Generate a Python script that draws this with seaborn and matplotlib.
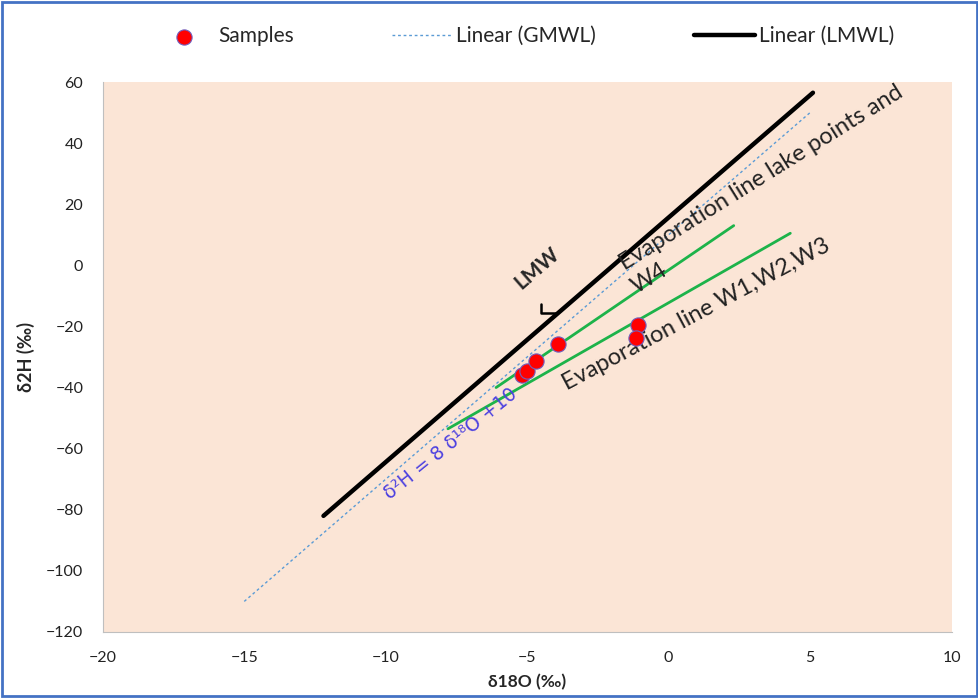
import matplotlib
matplotlib.use("Agg")
import matplotlib.pyplot as plt
import seaborn as sns
import pandas as pd
from matplotlib.patches import Rectangle

# sample points (d18O, d2H)
sample_o18 = [-5.2, -5.0, -4.7, -3.9, -1.1, -1.15]
sample_h2 = [-36.0, -34.7, -31.3, -25.8, -19.5, -23.8]

# meteoric water lines (end points)
gmwl_x = [-15.0, 5.0]
gmwl_y = [-110.0, 50.0]
lmwl_x = [-12.2, 5.1]
lmwl_y = [-82.0, 56.5]

# evaporation lines
evap_lake_x = [-6.1, 2.3]
evap_lake_y = [-40.0, 13.0]
evap_w_x = [-7.8, 4.3]
evap_w_y = [-53.5, 10.5]

xticks = [-20, -15, -10, -5, 0, 5, 10]
yticks = [-120, -100, -80, -60, -40, -20, 0, 20, 40, 60]

sns.set_style("white")
plt.rcParams['font.family'] = ['Lato', 'DejaVu Sans']

fig = plt.figure(figsize=(9.79, 6.98), dpi=100)
ax = fig.add_axes([0.105, 0.0946, 0.867, 0.7879])
ax.set_facecolor('#fbe5d6')

sns.lineplot(x=gmwl_x, y=gmwl_y, ax=ax, color='#5b9bd5', lw=1.0,
             linestyle=(0, (2, 2)), label='Linear (GMWL)')
sns.lineplot(x=lmwl_x, y=lmwl_y, ax=ax, color='black', lw=3.2,
             solid_capstyle='round', label='Linear (LMWL)')
sns.lineplot(x=evap_lake_x, y=evap_lake_y, ax=ax, color='#1db34a', lw=2.0)
sns.lineplot(x=evap_w_x, y=evap_w_y, ax=ax, color='#1db34a', lw=2.0)
sns.scatterplot(x=sample_o18, y=sample_h2, ax=ax, color='#ff0000', s=120,
                edgecolor='#7060c0', linewidth=0.8, zorder=5, label='Samples')

ax.set_xlim(-20, 10)
ax.set_ylim(-120, 60)
ax.set_xticks(xticks)
ax.set_yticks(yticks)
ax.tick_params(axis='both', length=0, labelsize=11.5, colors='#222222')
ax.tick_params(axis='x', pad=14)
ax.tick_params(axis='y', pad=14)
for s in ['top', 'right']:
    ax.spines[s].set_visible(False)
for s in ['left', 'bottom']:
    ax.spines[s].set_color('#bfbfbf')
    ax.spines[s].set_linewidth(0.8)

ax.set_xlabel('δ18O (‰)', fontsize=12.5, fontweight='bold', labelpad=6)
ax.set_ylabel('δ2H (‰)', fontsize=13, fontweight='bold', labelpad=8)

# annotations
ax.text(-5.19, -8.2, 'LMW', fontsize=15, fontweight='bold', rotation=41,
        rotation_mode='anchor', ha='left', va='baseline')
ax.annotate('', xy=(-3.9, -15.6), xytext=(-4.5, -11.6),
            arrowprops=dict(arrowstyle='-', lw=1.8, color='black',
                            connectionstyle='angle,angleA=90,angleB=0,rad=0'))
ax.text(-9.86, -76.9, 'δ²H = 8 δ¹⁸O +10', fontsize=13.5, color='#4b3fe0',
        family='DejaVu Sans', rotation=39, rotation_mode='anchor',
        ha='left', va='baseline')
ax.text(-1.55, -1.6, 'Evaporation line lake points and', fontsize=17,
        color='#222222', rotation=32, rotation_mode='anchor', ha='left', va='baseline')
ax.text(-1.13, -9.5, 'W4', fontsize=17, color='#222222', rotation=32,
        rotation_mode='anchor', ha='left', va='baseline')
ax.text(-3.6, -40.9, 'Evaporation line W1,W2,W3', fontsize=17, color='#222222',
        rotation=28, rotation_mode='anchor', ha='left', va='baseline')

# legend on top
handles, labels = ax.get_legend_handles_labels()
order = [labels.index('Samples'), labels.index('Linear (GMWL)'), labels.index('Linear (LMWL)')]
ax.get_legend().remove()
fig.legend([handles[i] for i in order], [labels[i] for i in order],
           loc='center', bbox_to_anchor=(0.535, 0.948), ncol=3, frameon=False,
           fontsize=15, columnspacing=4.7, handlelength=2.9, handletextpad=0.2)

fig.patches.append(Rectangle((0.002, 0.003), 0.996, 0.994, transform=fig.transFigure,
                             fill=False, edgecolor='#4472c4', lw=2))

fig.savefig('out.png', dpi=100)
